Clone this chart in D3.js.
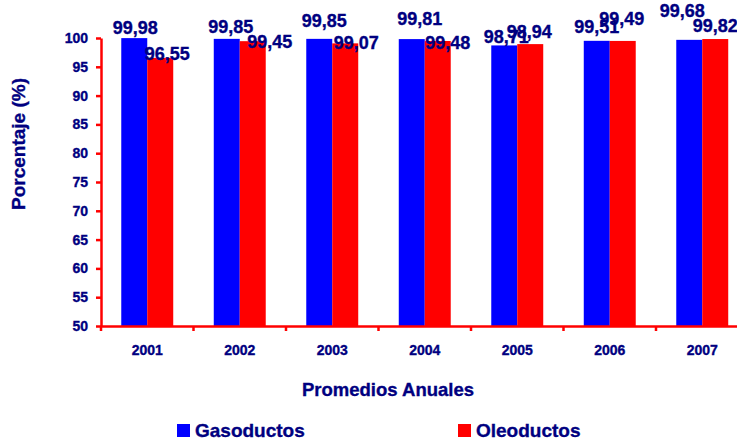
<!DOCTYPE html>
<html>
<head>
<meta charset="utf-8">
<script src="https://cdn.jsdelivr.net/npm/d3@7"></script>
<style>
  body { margin: 0; background: #fff; }
  svg { display: block; font-family: 'Liberation Sans', Arial, sans-serif; font-weight: bold; }
  svg text { stroke: #000080; stroke-width: 0.35px; }
</style>
</head>
<body>
<div id="chart"></div>
<script>
var years = ['2001', '2002', '2003', '2004', '2005', '2006', '2007'];
var seriesNames = ['Gasoductos', 'Oleoductos'];
var gasoductos = [99.98, 99.85, 99.85, 99.81, 98.71, 99.51, 99.68];
var oleoductos = [96.55, 99.45, 99.07, 99.48, 98.94, 99.49, 99.82];
var yTicks = [50, 55, 60, 65, 70, 75, 80, 85, 90, 95, 100];
var colors = ['#0000ff', '#ff0000'];

// the labels were dragged around by hand in the original, so nudge them
var labelNudge = [[1, -4], [7, 2], [4, -6], [17, 7], [5, -12], [11, 6], [8, -14], [10, 8],
  [2, -2], [-1, -6], [0, -8], [-1, -16], [-7, -23], [0, -7]];

var width = 737, height = 442;
var textColor = '#000080';

var svg = d3.select('#chart')
  .append('svg')
  .attr('width', width)
  .attr('height', height);

var x = d3.scaleBand()
  .domain(years)
  .range([101, 101 + 7 * 92.5])
  .padding(0);

var xSub = d3.scaleBand()
  .domain(seriesNames)
  .range([0, x.bandwidth()])
  .paddingInner(0)
  .paddingOuter(0.78);

var y = d3.scaleLinear()
  .domain([50, 100])
  .range([326, 38]);

var rows = [];
years.forEach(function(yr, i) {
  rows.push({ year: yr, name: seriesNames[0], value: gasoductos[i], s: 0, idx: i * 2 });
  rows.push({ year: yr, name: seriesNames[1], value: oleoductos[i], s: 1, idx: i * 2 + 1 });
});

// bars
svg.append('g')
  .selectAll('rect')
  .data(rows)
  .join('rect')
  .attr('x', d => x(d.year) + xSub(d.name))
  .attr('y', d => y(d.value))
  .attr('width', xSub.bandwidth())
  .attr('height', d => y(50) - y(d.value))
  .attr('fill', d => colors[d.s]);

// y axis
var yAxis = svg.append('g')
  .attr('transform', 'translate(101,0)')
  .call(d3.axisLeft(y).tickValues(yTicks).tickSize(5).tickPadding(8).tickSizeOuter(0));
yAxis.select('.domain').attr('stroke', '#ff0000').attr('stroke-width', 2.5);
yAxis.selectAll('.tick line').attr('stroke', '#ff0000').attr('stroke-width', 2.5);
yAxis.selectAll('.tick text')
  .attr('fill', textColor)
  .style('font-size', '14px')
  .style('font-weight', 'bold')
  .style('font-family', "'Liberation Sans', Arial, sans-serif");

// x axis
var xAxis = svg.append('g')
  .attr('transform', 'translate(0,326)')
  .call(d3.axisBottom(x).tickSize(0).tickPadding(19).tickSizeOuter(0));
xAxis.select('.domain').attr('stroke', '#ff0000').attr('stroke-width', 2.5);
xAxis.selectAll('.tick text')
  .attr('fill', textColor)
  .style('font-size', '14px')
  .style('font-weight', 'bold')
  .style('font-family', "'Liberation Sans', Arial, sans-serif");

var bounds = years.map(d => x(d)).concat([x(years[years.length - 1]) + x.bandwidth()]);
svg.append('g')
  .selectAll('line')
  .data(bounds)
  .join('line')
  .attr('x1', d => d)
  .attr('x2', d => d)
  .attr('y1', 326)
  .attr('y2', 331)
  .attr('stroke', '#ff0000')
  .attr('stroke-width', 2.5);

// value labels
svg.append('g')
  .selectAll('text')
  .data(rows)
  .join('text')
  .attr('x', d => x(d.year) + xSub(d.name) + xSub.bandwidth() / 2 + labelNudge[d.idx][0])
  .attr('y', d => y(d.value) + labelNudge[d.idx][1])
  .attr('text-anchor', 'middle')
  .attr('fill', textColor)
  .style('font-size', '18px')
  .text(d => d.value.toFixed(2).replace('.', ','));

// axis titles
svg.append('text')
  .attr('transform', 'translate(25,144)rotate(-90)')
  .attr('text-anchor', 'middle')
  .attr('fill', textColor)
  .style('font-size', '19px')
  .text('Porcentaje (%)');

svg.append('text')
  .attr('x', 388)
  .attr('y', 396)
  .attr('text-anchor', 'middle')
  .attr('fill', textColor)
  .style('font-size', '18.5px')
  .text('Promedios Anuales');

// legend
var legendX = [177, 458];
var legend = svg.append('g')
  .selectAll('g')
  .data(seriesNames)
  .join('g')
  .attr('transform', (d, i) => `translate(${legendX[i]},424)`);

legend.append('rect')
  .attr('width', 13)
  .attr('height', 13)
  .attr('fill', (d, i) => colors[i]);

legend.append('text')
  .attr('x', 18)
  .attr('y', 13)
  .attr('fill', textColor)
  .style('font-size', '19px')
  .text(d => d);
</script>
</body>
</html>
